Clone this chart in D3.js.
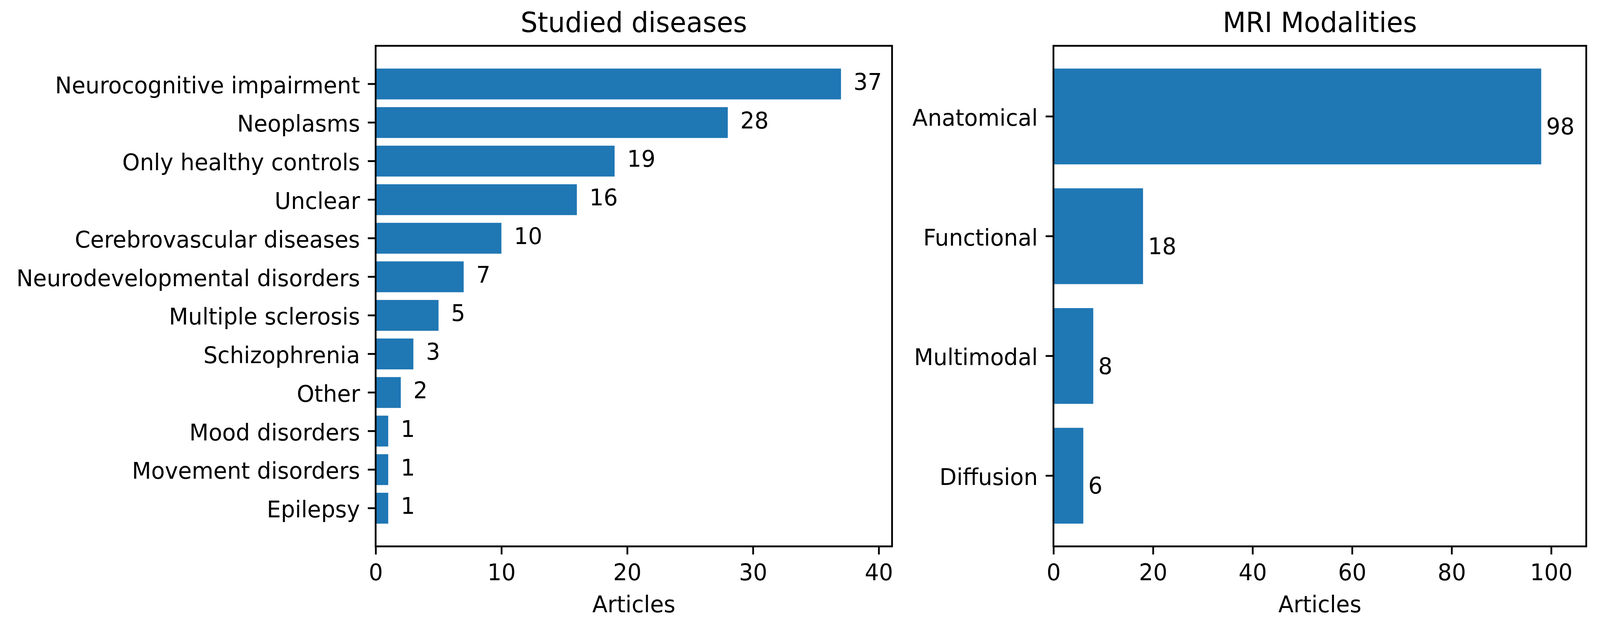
<!DOCTYPE html>
<html>
<head>
<meta charset="utf-8">
<script src="https://cdn.jsdelivr.net/npm/d3@7/dist/d3.min.js"></script>
<style>
  html, body { margin: 0; padding: 0; background: #fff; overflow: hidden; width: 100%; height: 100%; }
  svg { display: block; width: 100vw; height: 100vh; }
</style>
</head>
<body>
<svg id="chart" viewBox="0 0 4236 1616" preserveAspectRatio="none"></svg>
<script>
// ---- data ----
const diseaseCategories = [
  "Neurocognitive impairment", "Neoplasms", "Only healthy controls", "Unclear",
  "Cerebrovascular diseases", "Neurodevelopmental disorders", "Multiple sclerosis",
  "Schizophrenia", "Other", "Mood disorders", "Movement disorders", "Epilepsy"
];
const diseaseCounts = [37, 28, 19, 16, 10, 7, 5, 3, 2, 1, 1, 1];
const diseaseTicks = [0, 10, 20, 30, 40];

const modalityCategories = ["Anatomical", "Functional", "Multimodal", "Diffusion"];
const modalityCounts = [98, 18, 8, 6];
const modalityTicks = [0, 20, 40, 60, 80, 100];

const titles = ["Studied diseases", "MRI Modalities"];
const xLabel = "Articles";

// ---- styling ----
const FONT = "DejaVu Sans";
const FS = 59;          // 10pt
const TFS = 70.9;       // 12pt
const LW = 4.7;         // 0.8pt
const TICK = 20.7;      // 3.5pt
const BAR = "#1f77b4";

const svg = d3.select("#chart");

function panel(cfg) {
  const { left, right, top, bottom, cats, vals, ticks, xmax, title } = cfg;
  const n = cats.length;
  const span = (n - 1) + 0.8;
  const m = 0.05 * span;
  const x = d3.scaleLinear().domain([0, xmax]).range([left, right]);
  const y = d3.scaleLinear().domain([-0.4 - m, n - 1 + 0.4 + m]).range([top, bottom]);

  const g = svg.append("g");

  // bars
  g.selectAll("rect.bar").data(vals).enter().append("rect")
    .attr("class", "bar")
    .attr("x", x(0))
    .attr("y", (d, i) => y(i - 0.4))
    .attr("width", d => x(d) - x(0))
    .attr("height", (d, i) => y(i + 0.4) - y(i - 0.4))
    .attr("fill", BAR);

  // value labels
  g.selectAll("text.val").data(vals).enter().append("text")
    .attr("class", "val")
    .attr("x", d => x(d + 1))
    .attr("y", (d, i) => y(i + 0.15))
    .attr("font-family", FONT)
    .attr("font-size", FS)
    .attr("fill", "#000")
    .text(d => d);

  // x axis
  const xa = g.append("g")
    .attr("transform", `translate(0,${bottom})`)
    .call(d3.axisBottom(x).tickValues(ticks).tickFormat(d3.format("d"))
      .tickSize(TICK).tickPadding(24.4));
  xa.select(".domain").remove();
  xa.selectAll(".tick line").attr("stroke", "#000").attr("stroke-width", LW);
  xa.selectAll(".tick text").attr("font-family", FONT).attr("font-size", FS).attr("fill", "#000");
  xa.attr("font-size", null).attr("font-family", null);

  // y axis
  const yb = d3.scaleBand().domain(cats).range([y(-0.5), y(n - 0.5)]);
  const ya = g.append("g")
    .attr("transform", `translate(${left},0)`)
    .call(d3.axisLeft(yb).tickSize(TICK).tickPadding(20.7));
  ya.select(".domain").remove();
  ya.selectAll(".tick line").attr("stroke", "#000").attr("stroke-width", LW);
  ya.selectAll(".tick text").attr("font-family", FONT).attr("font-size", FS)
    .attr("fill", "#000").attr("dy", "0.4em");
  ya.attr("font-size", null).attr("font-family", null);

  // frame
  g.append("rect")
    .attr("x", left).attr("y", top)
    .attr("width", right - left).attr("height", bottom - top)
    .attr("fill", "none").attr("stroke", "#000").attr("stroke-width", LW);

  // title
  g.append("text")
    .attr("x", (left + right) / 2).attr("y", 81.7)
    .attr("text-anchor", "middle")
    .attr("font-family", FONT).attr("font-size", TFS).attr("fill", "#000")
    .text(title);

  // x label
  g.append("text")
    .attr("x", (left + right) / 2).attr("y", 1568)
    .attr("text-anchor", "middle")
    .attr("font-family", FONT).attr("font-size", FS).attr("fill", "#000")
    .text(xLabel);
}

panel({ left: 994.5, right: 2361.7, top: 117.3, bottom: 1399.3,
        cats: diseaseCategories, vals: diseaseCounts, ticks: diseaseTicks,
        xmax: 41.06, title: titles[0] });
panel({ left: 2789, right: 4199.6, top: 117.3, bottom: 1399.3,
        cats: modalityCategories, vals: modalityCounts, ticks: modalityTicks,
        xmax: 107.05, title: titles[1] });
</script>
</body>
</html>
